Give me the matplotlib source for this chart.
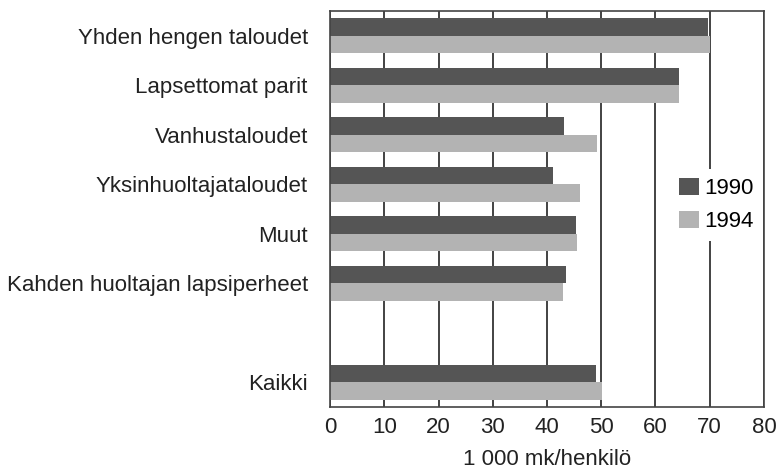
import numpy as np
import matplotlib.pyplot as plt

plt.rcParams['font.family'] = ['Liberation Sans', 'DejaVu Sans']

# data (1 000 mk per person)
categories = ["Yhden hengen taloudet", "Lapsettomat parit", "Vanhustaloudet",
              "Yksinhuoltajataloudet", "Muut", "Kahden huoltajan lapsiperheet",
              "Kaikki"]
slots = [0, 1, 2, 3, 4, 5, 7]  # gap before "Kaikki"
values_1990 = [69.7, 64.3, 43.2, 41.1, 45.4, 43.5, 49.1]
values_1994 = [70.1, 64.4, 49.2, 46.0, 45.6, 43.0, 50.2]
x_ticks = [0, 10, 20, 30, 40, 50, 60, 70, 80]

fig = plt.figure(figsize=(7.76, 4.69), dpi=100)
ax = fig.add_axes([0.4253, 0.1322, 0.5592, 0.8443])

y = np.array(slots)
h = 0.35
ax.barh(y - h / 2, values_1990, height=h, color="#555555", label="1990", zorder=2)
ax.barh(y + h / 2, values_1994, height=h, color="#b3b3b3", label="1994", zorder=2)

ax.set_xlim(0, 80)
ax.set_ylim(7.5, -0.5)
ax.set_xticks(x_ticks)
ax.set_yticks(slots)
ax.set_yticklabels(categories)
ax.tick_params(axis="both", length=0, labelsize=16, colors="#222222")
ax.tick_params(axis="x", pad=7)
ax.tick_params(axis="y", pad=16)
ax.xaxis.grid(True, color="#222222", linewidth=1.2, zorder=0)
ax.set_axisbelow(True)
for s in ax.spines.values():
    s.set_color("#444444")
    s.set_linewidth(1.2)

ax.set_xlabel("1 000 mk/henkilö", fontsize=16, color="#222222", labelpad=8)

leg = ax.legend(loc="center", bbox_to_anchor=(0.89, 0.51), frameon=True,
                fontsize=16, handlelength=0.9, handleheight=0.8,
                handletextpad=0.2, labelspacing=0.55, borderpad=0.4)
leg.get_frame().set_facecolor("white")
leg.get_frame().set_edgecolor("none")
leg.get_frame().set_alpha(1)

fig.savefig("out.png", dpi=100)
